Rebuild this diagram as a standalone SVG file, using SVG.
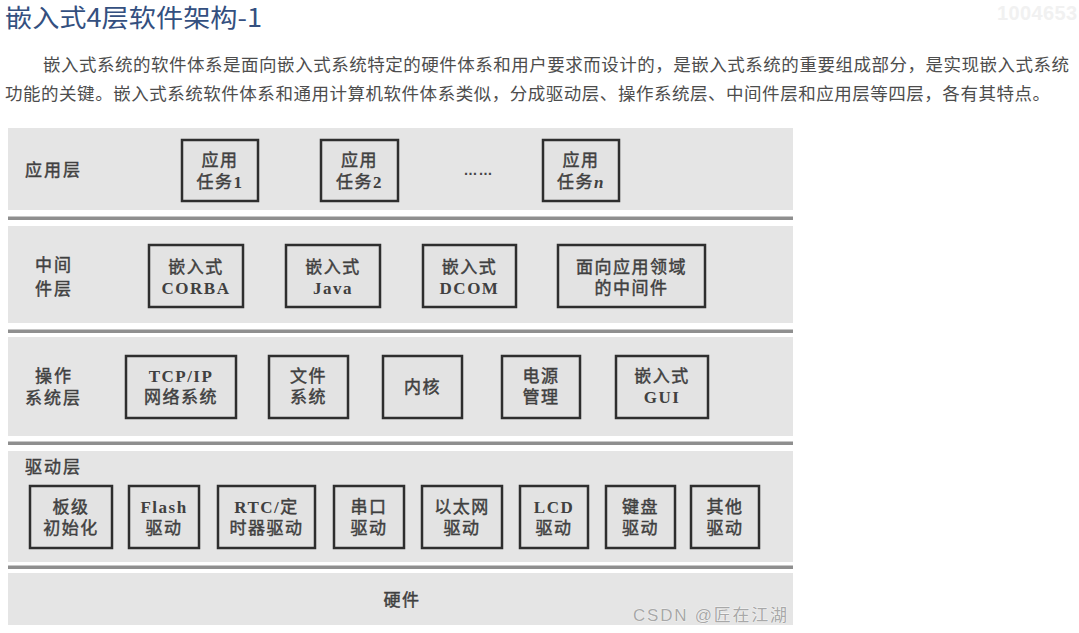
<svg xmlns="http://www.w3.org/2000/svg" width="1079" height="633" viewBox="0 0 1079 633">
<style>
.band{fill:#e5e5e5}
.sep{fill:#8f8f8f}
.box{fill:#e3e3e3;stroke:#2e2e2e;stroke-width:2.5}
.t{font-family:"Liberation Serif","Noto Sans CJK SC",serif;font-size:17px;fill:#404040;stroke:#404040;stroke-width:0.45;text-anchor:middle;letter-spacing:1.5px}
.lat{font-weight:bold;stroke-width:0}
.lbl{font-family:"Liberation Serif","Noto Sans CJK SC",serif;font-size:17px;fill:#404040;stroke:#404040;stroke-width:0.45;letter-spacing:2px}
.p{font-family:"Noto Sans CJK SC","Microsoft YaHei",sans-serif;font-size:17.5px;fill:#4d4d4d}
</style>
<rect width="1079" height="633" fill="#ffffff"/>
<text x="997" y="20" font-family="Liberation Sans,sans-serif" font-size="20" font-weight="bold" fill="#f1f1f1" textLength="80">1004653</text>
<text x="5" y="27" font-family="Noto Sans CJK SC,sans-serif" font-size="25" fill="#34507f" textLength="257" lengthAdjust="spacingAndGlyphs">嵌入式4层软件架构-1</text>
<text class="p" x="43" y="71" textLength="1026" lengthAdjust="spacing">嵌入式系统的软件体系是面向嵌入式系统特定的硬件体系和用户要求而设计的，是嵌入式系统的重要组成部分，是实现嵌入式系统</text>
<text class="p" x="5" y="100" textLength="1045" lengthAdjust="spacing">功能的关键。嵌入式系统软件体系和通用计算机软件体系类似，分成驱动层、操作系统层、中间件层和应用层等四层，各有其特点。</text>

<g id="bands">
<rect class="band" x="8" y="128" width="785" height="82"/>
<rect class="sep" x="8" y="216.5" width="785" height="3.5"/>
<rect class="band" x="8" y="226" width="785" height="97"/>
<rect class="sep" x="8" y="329.5" width="785" height="3.5"/>
<rect class="band" x="8" y="337" width="785" height="99"/>
<rect class="sep" x="8" y="441.5" width="785" height="3.5"/>
<rect class="band" x="8" y="451" width="785" height="111"/>
<rect class="sep" x="8" y="565.5" width="785" height="3.5"/>
<rect class="band" x="8" y="573" width="785" height="52"/>
</g>

<g id="layer-labels">
<text class="lbl" x="25" y="176">应用层</text>
<text class="lbl" x="35" y="271">中间</text>
<text class="lbl" x="35" y="295">件层</text>
<text class="lbl" x="35" y="382">操作</text>
<text class="lbl" x="25" y="404">系统层</text>
<text class="lbl" x="25" y="473">驱动层</text>
</g>

<g id="app1"><rect class="box" x="182" y="140" width="76" height="61"/><text class="t" x="220" y="166">应用</text><text class="t" x="220" y="188">任务<tspan class="lat">1</tspan></text></g>
<g id="app2"><rect class="box" x="321" y="140" width="77" height="61"/><text class="t" x="359.5" y="166">应用</text><text class="t" x="359.5" y="188">任务<tspan class="lat">2</tspan></text></g>
<g id="dots"><text x="478.5" y="175" font-family="Liberation Sans,sans-serif" font-size="14" font-weight="bold" fill="#444" text-anchor="middle" letter-spacing="1">……</text></g>
<g id="appn"><rect class="box" x="543" y="140" width="76" height="61"/><text class="t" x="581" y="166">应用</text><text class="t" x="581" y="188">任务<tspan class="lat" font-style="italic">n</tspan></text></g>

<g id="corba"><rect class="box" x="149" y="245" width="94" height="62"/><text class="t" x="196" y="273">嵌入式</text><text class="t lat" x="196" y="294">CORBA</text></g>
<g id="java"><rect class="box" x="286" y="245" width="94" height="62"/><text class="t" x="333" y="273">嵌入式</text><text class="t lat" x="333" y="294">Java</text></g>
<g id="dcom"><rect class="box" x="423" y="245" width="93" height="62"/><text class="t" x="469.5" y="273">嵌入式</text><text class="t lat" x="469.5" y="294">DCOM</text></g>
<g id="domain"><rect class="box" x="558" y="245" width="147" height="62"/><text class="t" x="631.5" y="273">面向应用领域</text><text class="t" x="631.5" y="294">的中间件</text></g>

<g id="tcpip"><rect class="box" x="126" y="356" width="110" height="62"/><text class="t lat" x="181" y="382">TCP/IP</text><text class="t" x="181" y="403">网络系统</text></g>
<g id="fs"><rect class="box" x="269" y="356" width="79" height="62"/><text class="t" x="308.5" y="382">文件</text><text class="t" x="308.5" y="403">系统</text></g>
<g id="kernel"><rect class="box" x="383" y="356" width="79" height="62"/><text class="t" x="422.5" y="393">内核</text></g>
<g id="power"><rect class="box" x="502" y="356" width="78" height="62"/><text class="t" x="541" y="382">电源</text><text class="t" x="541" y="403">管理</text></g>
<g id="gui"><rect class="box" x="616" y="356" width="92" height="62"/><text class="t" x="662" y="382">嵌入式</text><text class="t lat" x="662" y="403">GUI</text></g>

<g id="board"><rect class="box" x="30" y="486" width="82" height="62"/><text class="t" x="71" y="513">板级</text><text class="t" x="71" y="534">初始化</text></g>
<g id="flash"><rect class="box" x="129" y="486" width="70" height="62"/><text class="t lat" x="164" y="513">Flash</text><text class="t" x="164" y="534">驱动</text></g>
<g id="rtc"><rect class="box" x="218" y="486" width="97" height="62"/><text class="t" x="266.5" y="513"><tspan class="lat">RTC/</tspan>定</text><text class="t" x="266.5" y="534">时器驱动</text></g>
<g id="serial"><rect class="box" x="334" y="486" width="70" height="62"/><text class="t" x="369" y="513">串口</text><text class="t" x="369" y="534">驱动</text></g>
<g id="eth"><rect class="box" x="422" y="486" width="80" height="62"/><text class="t" x="462" y="513">以太网</text><text class="t" x="462" y="534">驱动</text></g>
<g id="lcd"><rect class="box" x="520" y="486" width="68" height="62"/><text class="t lat" x="554" y="513">LCD</text><text class="t" x="554" y="534">驱动</text></g>
<g id="kbd"><rect class="box" x="606" y="486" width="69" height="62"/><text class="t" x="640.5" y="513">键盘</text><text class="t" x="640.5" y="534">驱动</text></g>
<g id="other"><rect class="box" x="691" y="486" width="68" height="62"/><text class="t" x="725" y="513">其他</text><text class="t" x="725" y="534">驱动</text></g>

<g id="hardware"><text class="t" x="402" y="606">硬件</text></g>
<g id="connectors"></g>
<text x="633" y="621" font-family="Liberation Sans,Noto Sans CJK SC,sans-serif" font-size="17" fill="#a8a8a8" stroke="#ffffff" stroke-width="0.6" paint-order="stroke" textLength="154">CSDN @匠在江湖</text>
</svg>
